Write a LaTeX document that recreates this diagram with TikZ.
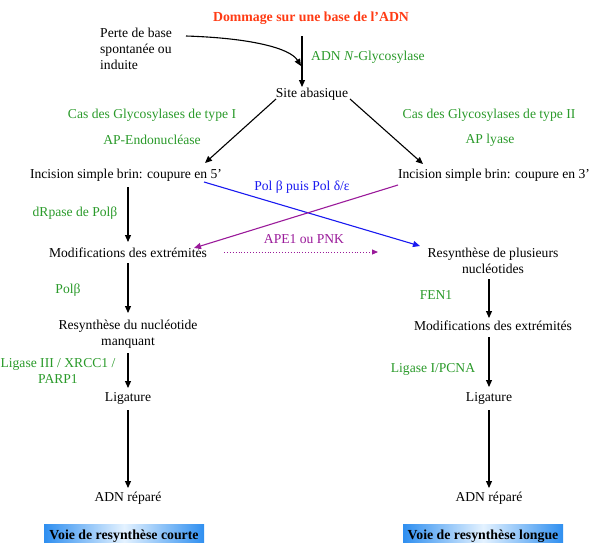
\documentclass[tikz,border=0pt]{standalone}
\usepackage{fontspec}
\setmainfont{Liberation Serif}
\usetikzlibrary{arrows.meta,shadings}
\definecolor{dred}{HTML}{FF3B14}
\definecolor{dgreen}{HTML}{2A9A2A}
\definecolor{dblue}{HTML}{1A1AF0}
\definecolor{dpurple}{HTML}{9A1A9A}
\definecolor{boxedge}{HTML}{2F8FF0}
\definecolor{boxmid}{HTML}{E4F2FF}
\tikzset{
  lbl/.style={font=\fontsize{13.6}{16}\selectfont, inner sep=0pt, align=center},
  enz/.style={lbl, text=dgreen},
  arr/.style={line width=1.1pt, -{Triangle[length=7pt,width=6pt]}},
  carr/.style={line width=1.1pt, -{Triangle[length=7pt,width=6pt]}},
  boldlbl/.style={lbl, font=\fontsize{13.8}{16}\selectfont\bfseries},
  pathbox/.style={minimum width=160pt, minimum height=30pt, inner sep=0pt, anchor=north west,
     left color=boxedge, right color=boxedge, middle color=boxmid}
}
\begin{document}
\begin{tikzpicture}[x=1pt,y=-1pt]
\useasboundingbox (0,0) rectangle (591,542);
\clip (0,0) rectangle (591,542);
% title
\node[boldlbl, text=dred] (title) at (311,18) {Dommage sur une base de l’ADN};
\node[lbl, align=left, anchor=north west] (perte) at (100,28) {Perte de base\\spontanée ou\\induite};
\coordinate (pstart) at (186,36);
\coordinate (top) at (302,36);
\node[lbl] (site) at (312,94) {Site abasique};
\draw[carr] (pstart) .. controls (250,38) and (290,48) .. (301,66);
\draw[arr] (top) -- (302,87);
\node[enz, anchor=west] (glyco) at (311,57) {ADN \textit{N}-Glycosylase};
% types
\node[enz] (t1) at (152,115) {Cas des Glycosylases de type I};
\node[enz] (ape) at (152,140) {AP-Endonucléase};
\node[enz] (t2) at (489,115) {Cas des Glycosylases de type II};
\node[enz] (lyase) at (490,140) {AP lyase};
\node[lbl] (inc5) at (126,175) {Incision simple brin: coupure en 5’};
\node[lbl] (inc3) at (494,175) {Incision simple brin: coupure en 3’};
\draw[arr] (276,99) -- (205,163);
\draw[arr] (350,99) -- (423,164);
% left branch
\node[lbl] (mod5) at (128,253) {Modifications des extrémités};
\draw[arr] (128,187) -- (128,242);
\node[enz] (drp) at (75,213) {dRpase de Polβ};
\node[lbl] (res1) at (128,334) {Resynthèse du nucléotide\\manquant};
\draw[arr] (128,263) -- (128,313);
\node[enz] (polb) at (68,290) {Polβ};
\node[lbl] (lig1) at (128,398) {Ligature};
\draw[arr] (128,353) -- (128,388);
\node[enz] (lig3) at (58,371) {Ligase III / XRCC1 /\\PARP1};
\node[lbl] (rep1) at (128,498) {ADN réparé};
\draw[arr] (128,410) -- (128,488);
% right branch
\node[lbl] (res2) at (493,261) {Resynthèse de plusieurs\\nucléotides};
\node[lbl] (mod3) at (493,326) {Modifications des extrémités};
\draw[arr] (489,279) -- (489,318);
\node[enz] (fen) at (436,295) {FEN1};
\node[lbl] (lig2) at (489,398) {Ligature};
\draw[arr] (489,337) -- (489,387);
\node[enz] (lig1e) at (433,369) {Ligase I/PCNA};
\node[lbl] (rep2) at (489,498) {ADN réparé};
\draw[arr] (489,410) -- (489,488);
% crossing arrows
\draw[line width=1.1pt, dblue, -{Triangle[length=7pt,width=6pt]}] (204,182) -- (420,246);
\node[lbl, text=dblue] (polbd) at (302,187) {Pol β puis Pol δ/ε};
\draw[line width=1.1pt, dpurple, -{Triangle[length=7pt,width=6pt]}] (398,185) -- (194,248);
\node[lbl, text=dpurple] (apen) at (304,239) {APE1 ou PNK};
\draw[line width=0.9pt, dpurple, dotted, -{Triangle[length=6pt,width=5pt]}] (224,252) -- (378,252);
% bottom boxes
\node[pathbox] (voie1) at (44,524) {};
\node[boldlbl] (v1t) at (124,536) {Voie de resynthèse courte};
\node[pathbox] (voie2) at (403,524) {};
\node[boldlbl] (v2t) at (483,536) {Voie de resynthèse longue};
\end{tikzpicture}
\end{document}
